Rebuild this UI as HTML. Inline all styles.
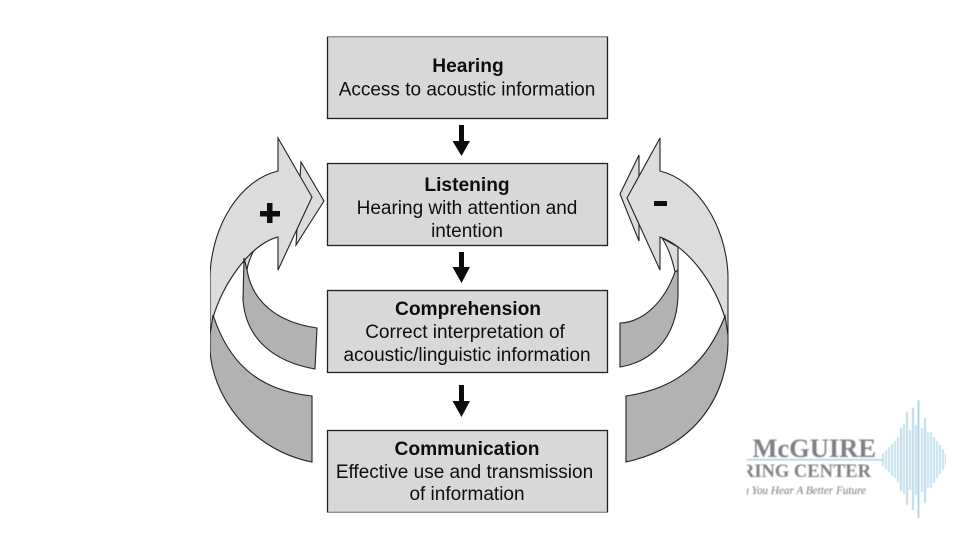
<!DOCTYPE html>
<html><head><meta charset="utf-8"><style>
html,body{margin:0;padding:0;background:#fff;width:960px;height:540px;overflow:hidden}
svg{display:block}
text{font-family:"Liberation Sans",Arial,sans-serif;fill:#111}
.t{font-size:19px;text-anchor:middle}
.b{font-size:19.200px;font-weight:bold;text-anchor:middle}
.box{fill:#d8d8d8;stroke:#222;stroke-width:1.3}
.lt{fill:#dcdcdc;stroke:#222;stroke-width:1.1;stroke-linejoin:miter}
.dk{fill:#b2b2b2;stroke:#222;stroke-width:1.1}
</style></head><body>
<svg width="960" height="540" viewBox="0 0 960 540" xmlns="http://www.w3.org/2000/svg">
<rect width="960" height="540" fill="#fff"/>
<defs><filter id="s" x="0" y="0" width="100%" height="100%"><feGaussianBlur stdDeviation="0.35"/></filter>
<filter id="l" x="0" y="0" width="100%" height="100%"><feGaussianBlur stdDeviation="0.6"/></filter></defs>
<g filter="url(#s)">

<!-- left arrows -->
<path class="lt" d="M301 162L324 201L296 245Z"/>
<path class="lt" d="M244 258L247 270C248 262 252 254 256 246Z"/>
<path class="lt" d="M278 138L312 197L278 270V237C250 244 222 285 213 318L210 345V275C212 225 240 180 278 171Z"/>
<path class="dk" d="M244 258L247 270C252 300 275 322 317 328L315 369C275 362 246 340 243 300Z"/>
<path class="dk" d="M213 315L210 335V350C212 395 250 450 312 462V396C255 390 228 360 213 315Z"/>

<!-- right arrows -->
<path class="lt" d="M639 155L620 194L639 241Z"/>
<path class="lt" d="M662 238L678 247V275L675 272C672 258 668 247 662 238Z"/>
<path class="lt" d="M660 138L627 198L660 270V237C690 248 715 285 725 318L728 345V275C726 225 697 180 660 171Z"/>
<path class="dk" d="M675 272C665 300 645 322 620 323V367C650 362 676 340 678 297V270Z"/>
<path class="dk" d="M725 316L728 335C730 395 695 447 626 462V396C680 388 708 360 725 316Z"/>

<!-- signs -->
<rect x="260" y="211" width="20" height="5.500" fill="#111"/>
<rect x="267" y="203" width="5.500" height="20" fill="#111"/>
<rect x="654" y="201" width="13" height="5" fill="#111"/>

<!-- boxes -->
<rect class="box" x="327.500" y="36.500" width="280" height="82"/>
<rect class="box" x="327.500" y="163.500" width="280" height="82"/>
<rect class="box" x="327.500" y="290.500" width="280" height="82"/>
<rect class="box" x="327.500" y="430.500" width="280" height="82"/>

<!-- down arrows -->
<path fill="#111" d="M459 125H464V141H470L461.500 156L452.500 141H459Z"/>
<path fill="#111" d="M459 252H464V267H470L461.500 283L452.500 267H459Z"/>
<path fill="#111" d="M459 385H464V401H470L461.500 417L452.500 401H459Z"/>

<!-- text -->
<text class="b" x="468" y="72">Hearing</text>
<text class="t" x="467" y="95.500">Access to acoustic information</text>
<text class="b" x="467" y="191">Listening</text>
<text class="t" x="467" y="214">Hearing with attention and</text>
<text class="t" x="467" y="237">intention</text>
<text class="b" x="468" y="315">Comprehension</text>
<text class="t" x="465" y="338">Correct interpretation of</text>
<text class="t" x="467" y="361">acoustic/linguistic information</text>
<text class="b" x="467" y="455">Communication</text>
<text class="t" x="464.500" y="478">Effective use and transmission</text>
<text class="t" x="467" y="500">of information</text>
</g>

<!-- logo -->
<g filter="url(#l)">
<clipPath id="c"><rect x="747" y="400" width="213" height="125"/></clipPath>
<clipPath id="c2"><rect x="753" y="400" width="207" height="125"/></clipPath>
<g clip-path="url(#c2)">
<text x="876" y="457" text-anchor="end" style="font-family:'Liberation Serif',serif;font-weight:bold;font-size:26.500px;fill:#7f8284">The McGUIRE</text>
</g>
<g clip-path="url(#c)">
<text x="871" y="477" text-anchor="end" style="font-family:'Liberation Serif',serif;font-weight:bold;font-size:18.500px;fill:#7f8284">HEARING CENTER</text>
<text x="866" y="494" text-anchor="end" style="font-family:'Liberation Serif',serif;font-style:italic;font-size:11.200px;fill:#77797b">Helping You Hear A Better Future</text>
<rect x="740" y="459" width="142" height="1.500" fill="#a9d0e0"/>
</g>
<g stroke="#b5dae9" stroke-width="1.600">
<path d="M883 453V466M886 450V469M889 447V472M892 444V476M895 441V478M898 437V482"/>
<path d="M901 428V491" stroke="#a9cfe0"/><path d="M904 424V494"/><path d="M907 412V505" stroke="#b4d0dc"/><path d="M910 430V490"/>
<path d="M913 408V510" stroke="#a9cfe0"/><path d="M916 425V495"/><path d="M918.500 400V518" stroke="#9cc6da"/>
<path d="M922 428V492"/><path d="M925 418V503" stroke="#acd0e0"/><path d="M928 432V488"/><path d="M931 432V488"/>
<path d="M934 437V483"/><path d="M937 441V478"/><path d="M940 445V474"/><path d="M943 449V470"/><path d="M946 454V465"/>
</g>
</g>
</svg>
</body></html>
